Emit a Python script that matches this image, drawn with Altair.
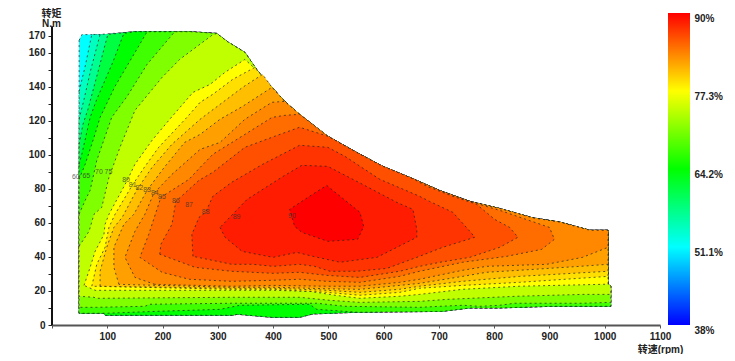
import altair as alt
import pandas as pd

# Outline of the measured map, clockwise from the upper-left corner (rpm, N.m)
ENVELOPE = [(49,167.4),(54,170.8),(96,170.8),(148,172.5),(250,172.5),(298,171.5),(318,166.5),(349,160.3),
            (373,149),(398,139.8),(421,131.5),(448,123.9),(479,116),(499,111),(551,101.5),(597,93.5),
            (653,86),(702,79),(756,72.7),(810,68.5),(870,63),(919,60.5),(973,55.7),(1006,55.7),
            (1006,24),(1011,22.8),(1011,11),(904,11),(807,10),(756,10),(705,8),(553,7.5),
            (472,6.5),(448,4.5),(398,4.5),(336,6.3),(326,5.7),(96,5.7),(94,6.9),(49,6.9)]

L1 = [(49,137.4),(60,152.1),(72,170.9)]
L2 = [(49,121),(58,132.7),(69,148.6),(87,170.9)]
L3 = [(49,106.3),(56,118),(65,126.8),(81,146.2),(101,170.9)]
L4 = [(49,94.5),(54,100.4),(69,122.1),(81,132.7),(110,154.5),(130,171.5)]
L5 = [(49,85.7),(60,94.5),(76,110.4),(87,122.1),(114,140.4),(146,158),(172,172.5)]
L5_LOW = [(479,9.2),(466,12.2),(340,11.6),(304,9.2),(195,8.1),(98,6.9)]
L6 = [(49,65.1),(60,73.3),(69,79.2),(81,96.8),(108,122.1),(136,134.5),(172,153.3),(222,172.5)]
L6_LOW = [(1011,13.3),(960,12.8),(837,12.8),(810,11.6),(774,11),(743,11.6),(702,11),(665,10.4),(530,11),
          (479,12.8),(325,12.8),(177,12.2),(168,11),(81,10.4),(49,10.4)]
L7 = [(49,46.3),(67,55.1),(76,65.1),(90,69.2),(103,86.8),(123,104.5),(150,126.2),(199,145.6),(231,156.2),(289,170.3)]
L7_LOW = [(1011,18),(960,18),(841,16.9),(716,15.1),(665,13.9),(557,13.3),(503,14.5),(448,16.3),(325,16.3),
          (80,15.7),(76,16.3),(49,16.9)]
A = [(58,23.3),(69,33.9),(78,43.3),(94,53.3),(96,59.2),(103,65.1),(136,85),(150,94.5),(181,108.6),(213,121),
     (255,136.8),(286,141.5),(313,148.6),(349,156.2)]
A_LOW = [(846,22.8),(743,21),(665,18),(629,16.9),(557,15.7),(512,17.5),(467,19.8),(400,20.4),(325,20.4),(78,20.4)]
B = [(72,22.8),(81,35.7),(96,45.7),(103,57.4),(114,65.1),(145,82.1),(167,92.7),(193,104.5),(244,122.1),
     (268,131),(291,135.7),(327,144.5),(367,151.5)]
B_LOW = [(1006,28.6),(846,25.1),(743,23.3),(665,21.6),(629,19.2),(557,17.5),(497,19.2),(400,21),(325,21)]
C = [(87,22.8),(87,31.6),(99,45.7),(112,57.4),(127,63.3),(154,79.8),(181,92.7),(217,106.3),(268,121),
     (309,131),(345,139.8),(381,147.4)]
C_LOW = [(1006,31.6),(846,28.6),(743,25.7),(665,22.8),(629,21),(557,19.2),(497,20.4),(400,21.6),(325,21.6)]
D = [(121,23.9),(112,33.9),(112,45.7),(130,59.2),(148,65.1),(172,79.2),(203,92.7),(240,107.4),(268,112.1),
     (304,121),(345,128.6)]
D_LOW = [(1006,35.7),(955,34.5),(846,32.2),(786,31),(743,28.6),(665,24.5),(629,23.3),(557,21),(497,21.3),
         (400,22.2),(325,22.2)]
E = [(186,23.9),(150,28),(132,39.8),(150,55.1),(168,65.1),(184,77.4),(217,88.6),(268,103.3),(304,107.4),
     (349,121),(398,131)]
E_LOW = [(1006,45.7),(960,39.8),(895,35.7),(786,34.5),(743,32.2),(665,26.9),(629,25.1),(557,22.8),(497,22.8),
         (400,23.3),(325,22.8)]
F = [(199,31),(159,39.8),(175,53.3),(197,75.1),(248,85.7),(268,92.7),(291,100.4),(349,112.1),(398,122.1),(421,123.3)]
F_LOW = [(815,66.9),(900,57.4),(909,50.4),(886,44.5),(823,40.4),(743,36.9),(665,31.6),(629,28.6),(557,25.1),
         (497,25.7),(448,26.9),(400,26.3),(325,25.7),(248,26.9)]
G = [(195,41.6),(197,47.5),(217,59.2),(224,72.7),(266,85.1),(291,89.8),(349,104.5),(403,111),(448,116.3)]
G_LOW = [(678,81.6),(725,75.7),(768,71),(801,62.1),(828,57.4),(843,51.6),(810,45.7),(756,39.8),(702,36.9),
         (665,34.5),(629,31.6),(557,28),(497,29.2),(448,31),(400,30.4),(325,31.6),(259,33.9)]
H = [(255,40.4),(253,53.3),(266,63.3),(278,66.3),(291,75.7),(325,83.9),(381,94.5),(448,105.7),(499,104.5),
     (530,99.2),(593,85.7),(665,75.7),(683,72.7),(725,66.3),(756,55.1),(765,51.6),(707,45.7),(665,40.4),
     (606,33.3),(551,31.6),(503,31.6),(475,34.5),(448,35.7),(400,34.5),(363,35.7),(325,35.7)]
I = [(304,57.4),(313,51.6),(344,43.3),(400,39.8),(443,42.7),(472,40.4),(521,36.9),(588,39.8),(660,51.6),
     (660,56.3),(653,68),(624,72.1),(562,82.7),(499,93.3),(452,93.9),(418,87.4),(353,73.9)]
J = [(497,82.1),(557,66.3),(564,58),(553,50.4),(499,49.2),(452,54.5),(439,58),(430,68),(466,75.7)]

# name, colour, start of contour, first and last envelope vertex (or None), end of contour
REGIONS = [
    ("r00", "#00ffff", [], 0, 39, []),
    ("r01", "#00ffc0", L1, 2, 39, []),
    ("r02", "#00ff90", L2, 3, 39, []),
    ("r03", "#00ff40", L3, 3, 39, []),
    ("r04", "#00ff00", L4, 3, 39, []),
    ("r05", "#40ff00", L5, 4, 31, L5_LOW + [(94,6.9),(49,6.9)]),
    ("r06", "#80ff00", L6, 4, 25, L6_LOW),
    ("r07", "#bfff00", L7, 5, 25, L7_LOW),
    ("r08", "#ffff00", A, 8, 24, A_LOW),
    ("r09", "#ffdf00", B, 8, 23, B_LOW),
    ("r10", "#ffbf00", C, 9, 23, C_LOW),
    ("r11", "#ffa000", D, 9, 23, D_LOW),
    ("r12", "#ff8800", E, 10, 23, E_LOW),
    ("r13", "#ff6c00", F, 11, 18, F_LOW),
    ("r14", "#ff5000", G, 13, 16, G_LOW),
    ("r15", "#ff3400", H, None, None, []),
    ("r16", "#ff1c00", I, None, None, []),
    ("r17", "#ff0000", J, None, None, []),
]

LEVEL_LABELS = ["60","65","70","75","80","81","82","83","84","85","86","87","88","89","90"]
LABEL_X = [43,62,85,102,134,146,158,172,186,199,224,248,278,334,434]
LABEL_Y = [86.8,87.4,89.8,89.8,85.5,82.1,80.4,79.2,77.4,75.1,72.7,70.4,66.3,63.3,63.9]

Y_TICKS = [0,10,20,30,40,50,60,70,80,90,100,110,120,130,140,150,160,170]
X_TICKS = [0,100,200,300,400,500,600,700,800,900,1000,1100]
BAR_TICKS = [38,51.1,64.2,77.3,90]
BAR_COLORS = ["#0000ff","#00ffff","#00ff00","#ffff00","#ff0000"]

FONT = "Liberation Sans, 'Noto Sans CJK SC'"

rows = []
for name, color, head, i0, i1, tail in REGIONS:
    pts = list(head)
    if i0 is not None:
        pts += ENVELOPE[i0:i1 + 1]
    pts += tail
    for k, (x, y) in enumerate(pts):
        rows.append({"region": name, "k": k, "x": x, "y": y})
df = pd.DataFrame(rows)

x_scale = alt.Scale(domain=[0, 1100], nice=False)
y_scale = alt.Scale(domain=[0, 183.5], nice=False)

x_axis = alt.Axis(
    values=X_TICKS, title="转速(rpm)", format="d", labelExpr="datum.value == 0 ? '' : datum.label",
    grid=False, domainColor="#555555", domainWidth=2, tickColor="#555555", tickSize=3,
    labelFlush=False, labelOverlap=False,
    labelFont=FONT, labelFontSize=10, labelFontWeight="bold", labelColor="#222222", labelPadding=3,
    titleFont=FONT, titleFontSize=10, titleFontWeight="bold", titleColor="#222222",
    titleX=608, titleY=24, titleAlign="center", titleBaseline="middle",
)
y_axis = alt.Axis(
    values=Y_TICKS, title=["转矩", "N.m"], titleAngle=0, domain=False, grid=False, format="d",
    labelExpr="(datum.value % 20 == 0 && datum.value <= 160) || datum.value == 170 ? datum.label : ''",
    tickColor="#222222", tickSize=4, labelFlush=False, labelOverlap=False, labelBound=False,
    labelFont=FONT, labelFontSize=10, labelFontWeight="bold", labelColor="#222222", labelPadding=3,
    titleFont=FONT, titleFontSize=10, titleFontWeight="bold", titleColor="#222222",
    titleX=-1, titleY=-5, titleAlign="center", titleBaseline="top", titleLineHeight=10,
)

regions = alt.Chart(df).mark_line(
    interpolate="linear-closed", stroke="#222222", strokeWidth=0.8, strokeDash=[2, 3], strokeOpacity=0.9,
).encode(
    x=alt.X("x:Q", scale=x_scale, axis=x_axis),
    y=alt.Y("y:Q", scale=y_scale, axis=y_axis),
    fill=alt.Fill("region:N", legend=None, scale=alt.Scale(
        domain=[r[0] for r in REGIONS], range=[r[1] for r in REGIONS])),
    order=alt.Order("k:Q"),
)

labels = alt.Chart(pd.DataFrame({"x": LABEL_X, "y": LABEL_Y, "t": LEVEL_LABELS})).mark_text(
    font=FONT, fontSize=7, color="#333333", opacity=0.75,
).encode(x=alt.X("x:Q", scale=x_scale, axis=x_axis), y=alt.Y("y:Q", scale=y_scale, axis=y_axis), text="t:N")

y_line = alt.Chart(pd.DataFrame({"x": [0], "y": [0], "y2": [175.7]})).mark_rule(
    color="#111111", strokeWidth=2,
).encode(x=alt.X("x:Q", scale=x_scale, axis=x_axis), y=alt.Y("y:Q", scale=y_scale, axis=y_axis), y2="y2:Q")

main = alt.layer(regions, labels, y_line).properties(width=608, height=312)

bar = alt.Chart(pd.DataFrame({"lo": [38], "hi": [90]})).mark_rect(
    color=alt.LinearGradient(
        gradient="linear", x1=0, x2=0, y1=1, y2=0,
        stops=[alt.GradientStop(color=c, offset=o) for c, o in zip(BAR_COLORS, [0, 0.25, 0.5, 0.75, 1])],
    )
).encode(
    y=alt.Y("lo:Q", scale=alt.Scale(domain=BAR_TICKS, range=[312, 234, 156, 78, 0]), axis=alt.Axis(
        orient="right", values=BAR_TICKS, title=None, domain=False, ticks=False, grid=False,
        labelExpr="datum.value + '%'", labelBaseline="top", labelPadding=4, labelOverlap=False,
        labelFlush=False, labelBound=False,
        labelFont=FONT, labelFontSize=10, labelFontWeight="bold", labelColor="#222222",
    )),
    y2="hi:Q",
).properties(width=22, height=312)

chart = alt.hconcat(main, bar, spacing=8, bounds="flush").properties(
    padding={"left": 20, "top": 0, "right": 0, "bottom": 0}
).configure_view(stroke=None)

chart.save("out.html", embed_options={"renderer": "svg", "actions": False})
